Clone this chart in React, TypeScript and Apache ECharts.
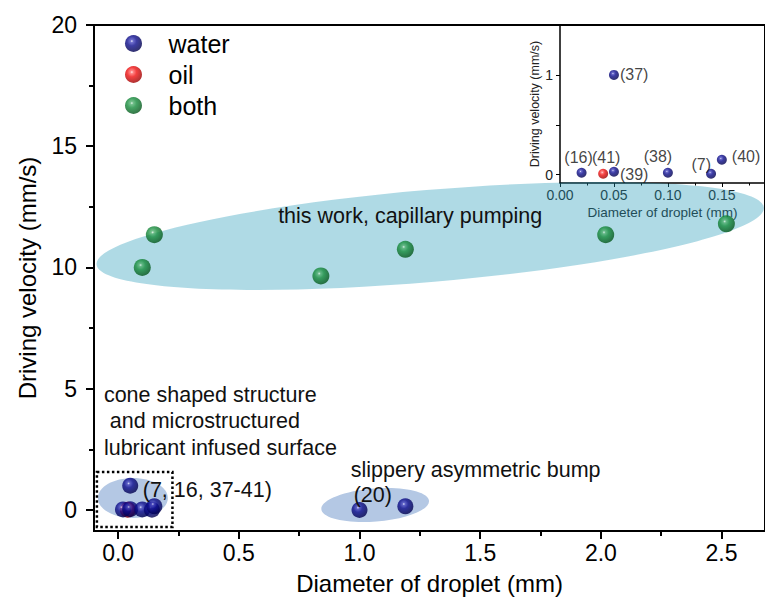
import React, { useEffect, useRef } from 'react';
import * as echarts from 'echarts';

// ---------- data ----------
const seriesNames = ['water', 'oil', 'both'];
const waterMain: number[][] = [
  [0.02, 0.02], [0.05, 0.03], [0.05, 1.0], [0.10, 0.02], [0.14, 0.01], [0.15, 0.15], [1.0, 0.0], [1.19, 0.15],
];
const oilMain: number[][] = [[0.04, 0.01]];
const bothMain: number[][] = [
  [0.10, 10.0], [0.15, 11.35], [0.84, 9.65], [1.19, 10.75], [2.02, 11.35], [2.52, 11.8],
];
const waterInset: number[][] = [
  [0.02, 0.02], [0.05, 0.03], [0.05, 1.0], [0.10, 0.02], [0.14, 0.01], [0.15, 0.15],
];
const waterInsetRefs = ['(16)', '(39)', '(37)', '(38)', '(7)', '(40)'];
const oilInset: number[][] = [[0.04, 0.01]];
const oilInsetRefs = ['(41)'];

const mainXTicks = [0, 0.5, 1, 1.5, 2, 2.5];
const mainXMinor = [0.25, 0.75, 1.25, 1.75, 2.25];
const mainYTicks = [0, 5, 10, 15, 20];
const mainYMinor = [2.5, 7.5, 12.5, 17.5];
const insetXTicks = [0, 0.05, 0.1, 0.15];
const insetXMinor = [0.025, 0.075, 0.125, 0.175];
const insetYTicks = [0, 0.5, 1];
const insetYLabels = [0, 1];

const xTitle = 'Diameter of droplet (mm)';
const yTitle = 'Driving velocity (mm/s)';

// annotations (anchors in data units of the main plot)
const annoTexts = [
  { text: 'this work, capillary pumping', at: [1.21, 12.12], align: 'center' },
  { text: 'cone shaped structure', at: [-0.059, 4.74], align: 'left' },
  { text: ' and microstructured', at: [-0.059, 3.65], align: 'left' },
  { text: 'lubricant infused surface', at: [-0.059, 2.56], align: 'left' },
  { text: '(7, 16, 37-41)', at: [0.102, 0.84], align: 'left' },
  { text: 'slippery asymmetric bump', at: [0.964, 1.65], align: 'left' },
  { text: '(20)', at: [0.976, 0.62], align: 'left' },
];
const annoEllipses = [
  { at: [1.293, 11.3], rx: 335, ry: 46, rot: 4.9, fill: 'rgba(32,152,184,0.36)', z: 1 },
  { at: [1.065, 0.2], rx: 54, ry: 16.5, rot: 4.5, fill: '#b4c8e4', z: 1 },
  { at: [0.061, 0.49], rx: 35, ry: 20, rot: 0, fill: '#b4c8e4', z: 1 },
];
const dottedBox = { from: [-0.088, 1.56], to: [0.225, -0.70] };

const insetLabelPlacement: Record<string, { position: string; offset: number[] }> = {
  '(16)': { position: 'top', offset: [-3, 3] },
  '(41)': { position: 'top', offset: [3, 2] },
  '(39)': { position: 'right', offset: [-4, 3] },
  '(37)': { position: 'right', offset: [-4, 0] },
  '(38)': { position: 'top', offset: [-10, 2] },
  '(7)': { position: 'left', offset: [10, -9] },
  '(40)': { position: 'right', offset: [0, -3] },
};

const FONT = 'Liberation Sans, Arial, sans-serif';

const sphere = (light: string, mid: string, base: string, dark: string) =>
  new echarts.graphic.RadialGradient(0.4, 0.36, 0.62, [
    { offset: 0, color: light },
    { offset: 0.14, color: mid },
    { offset: 0.45, color: base },
    { offset: 1, color: dark },
  ]);

const blueFill = () => sphere('#e6e6ff', '#4a4ac0', '#0c0c8c', '#000050');
const redFill = () => sphere('#ffe6e6', '#ff6a6a', '#f01010', '#a00000');
const greenFill = () => sphere('#dcf2e4', '#52b070', '#168c3c', '#05581c');

export default function App() {
  const ref = useRef<HTMLDivElement>(null);
  useEffect(() => {
    if (!ref.current) return;
    const chart = echarts.init(ref.current, undefined, { renderer: 'svg' });

    const axisLineBlack = (w: number) => ({ show: true, onZero: false, lineStyle: { color: '#000', width: w } });

    const option: any = {
      animation: false,
      backgroundColor: '#fff',
      textStyle: { fontFamily: FONT },
      legend: {
        data: seriesNames,
        orient: 'vertical',
        left: 120,
        top: 26,
        itemWidth: 60,
        itemHeight: 17,
        itemGap: 6,
        icon: 'circle',
        textStyle: { fontSize: 25, color: '#000', fontFamily: FONT },
      },
      grid: [
        { left: 94, top: 25, right: -10, bottom: 70, show: true, borderColor: '#000', borderWidth: 2, backgroundColor: 'transparent' },
        { left: 560, top: 25, right: -10, bottom: 418, show: false },
      ],
      xAxis: [
        {
          gridIndex: 0, type: 'value', min: -0.1, max: 2.68, position: 'bottom',
          axisLine: axisLineBlack(2),
          axisTick: { show: true, inside: false, length: 8, lineStyle: { color: '#000', width: 2 }, customValues: mainXTicks },
          axisLabel: { customValues: mainXTicks, formatter: (v: number) => v.toFixed(1), fontSize: 23, color: '#000', margin: 10, fontFamily: FONT },
          splitLine: { show: false },
          name: xTitle, nameLocation: 'middle', nameGap: 40,
          nameTextStyle: { fontSize: 24, color: '#000', fontFamily: FONT },
        },
        {
          gridIndex: 0, type: 'value', min: -0.1, max: 2.68, position: 'bottom',
          axisLine: { show: false, onZero: false },
          axisTick: { show: true, inside: false, length: 5, lineStyle: { color: '#000', width: 2 }, customValues: mainXMinor },
          axisLabel: { show: false }, splitLine: { show: false },
        },
        {
          gridIndex: 1, type: 'value', min: 0, max: 0.19, position: 'bottom',
          axisLine: axisLineBlack(1.5),
          axisTick: { show: true, inside: false, length: 4, lineStyle: { color: '#000', width: 1 }, customValues: insetXTicks },
          axisLabel: { customValues: insetXTicks, formatter: (v: number) => v.toFixed(2), fontSize: 14, color: '#222', margin: 5, fontFamily: FONT },
          splitLine: { show: false },
          name: xTitle, nameLocation: 'middle', nameGap: 22,
          nameTextStyle: { fontSize: 13.5, color: '#222', fontFamily: FONT },
        },
        {
          gridIndex: 1, type: 'value', min: 0, max: 0.19, position: 'bottom',
          axisLine: { show: false, onZero: false },
          axisTick: { show: true, inside: false, length: 2.5, lineStyle: { color: '#000', width: 1 }, customValues: insetXMinor },
          axisLabel: { show: false }, splitLine: { show: false },
        },
      ],
      yAxis: [
        {
          gridIndex: 0, type: 'value', min: -0.87, max: 20, position: 'left',
          axisLine: axisLineBlack(2),
          axisTick: { show: true, inside: false, length: 8, lineStyle: { color: '#000', width: 2 }, customValues: mainYTicks },
          axisLabel: { customValues: mainYTicks, fontSize: 23, color: '#000', margin: 17, fontFamily: FONT },
          splitLine: { show: false },
          name: yTitle, nameLocation: 'middle', nameGap: 55,
          nameTextStyle: { fontSize: 24, color: '#000', fontFamily: FONT },
        },
        {
          gridIndex: 0, type: 'value', min: -0.87, max: 20, position: 'left',
          axisLine: { show: false, onZero: false },
          axisTick: { show: true, inside: false, length: 5, lineStyle: { color: '#000', width: 2 }, customValues: mainYMinor },
          axisLabel: { show: false }, splitLine: { show: false },
        },
        {
          gridIndex: 1, type: 'value', min: -0.083, max: 1.5, position: 'left',
          axisLine: axisLineBlack(1.5),
          axisTick: { show: true, inside: false, length: 4, lineStyle: { color: '#000', width: 1 }, customValues: insetYTicks },
          axisLabel: { customValues: insetYLabels, fontSize: 14, color: '#222', margin: 7, fontFamily: FONT },
          splitLine: { show: false },
          name: yTitle, nameLocation: 'middle', nameGap: 17,
          nameTextStyle: { fontSize: 12.5, color: '#222', fontFamily: FONT },
        },
      ],
      series: [
        {
          name: 'oil', type: 'scatter', xAxisIndex: 0, yAxisIndex: 0, z: 2,
          data: oilMain, symbolSize: 16, itemStyle: { color: redFill() },
        },
        {
          name: 'water', type: 'scatter', xAxisIndex: 0, yAxisIndex: 0, z: 3,
          data: waterMain, symbolSize: 16, itemStyle: { color: blueFill() },
        },
        {
          name: 'both', type: 'scatter', xAxisIndex: 0, yAxisIndex: 0, z: 3,
          data: bothMain, symbolSize: 17, itemStyle: { color: greenFill() },
        },
        {
          name: 'water', type: 'scatter', xAxisIndex: 2, yAxisIndex: 2, z: 3,
          symbolSize: 10, itemStyle: { color: blueFill() },
          data: waterInset.map((v, i) => ({
            value: v,
            label: {
              show: true, formatter: waterInsetRefs[i],
              position: insetLabelPlacement[waterInsetRefs[i]].position,
              offset: insetLabelPlacement[waterInsetRefs[i]].offset,
              fontSize: 16, color: '#111', fontFamily: FONT,
            },
          })),
        },
        {
          name: 'oil', type: 'scatter', xAxisIndex: 2, yAxisIndex: 2, z: 3,
          symbolSize: 10, itemStyle: { color: redFill() },
          data: oilInset.map((v, i) => ({
            value: v,
            label: {
              show: true, formatter: oilInsetRefs[i],
              position: insetLabelPlacement[oilInsetRefs[i]].position,
              offset: insetLabelPlacement[oilInsetRefs[i]].offset,
              fontSize: 16, color: '#111', fontFamily: FONT,
            },
          })),
        },
      ],
    };
    chart.setOption(option);

    const px = (p: number[]) => chart.convertToPixel({ xAxisIndex: 0, yAxisIndex: 0 }, p) as number[];
    const elements: any[] = [];
    annoEllipses.forEach((e) => {
      const c = px(e.at);
      elements.push({
        type: 'ellipse', x: c[0], y: c[1], rotation: (e.rot * Math.PI) / 180, z: e.z, silent: true,
        shape: { cx: 0, cy: 0, rx: e.rx, ry: e.ry },
        style: { fill: e.fill },
      });
    });
    const b0 = px(dottedBox.from);
    const b1 = px(dottedBox.to);
    elements.push({
      type: 'rect', z: 6, silent: true,
      shape: { x: b0[0], y: b0[1], width: b1[0] - b0[0], height: b1[1] - b0[1] },
      style: { fill: 'none', stroke: '#000', lineWidth: 2.5, lineDash: [2.5, 2.5] },
    });
    annoTexts.forEach((t) => {
      const c = px(t.at);
      elements.push({
        type: 'text', x: c[0], y: c[1], z: 7, silent: true,
        style: { text: t.text, fontSize: 21.5, fontFamily: FONT, fill: '#111', align: t.align, verticalAlign: 'middle' },
      });
    });
    chart.setOption({ graphic: elements });

    return () => chart.dispose();
  }, []);
  return <div ref={ref} style={{ position: 'fixed', left: 0, top: 0, width: 765, height: 601 }} />;
}
